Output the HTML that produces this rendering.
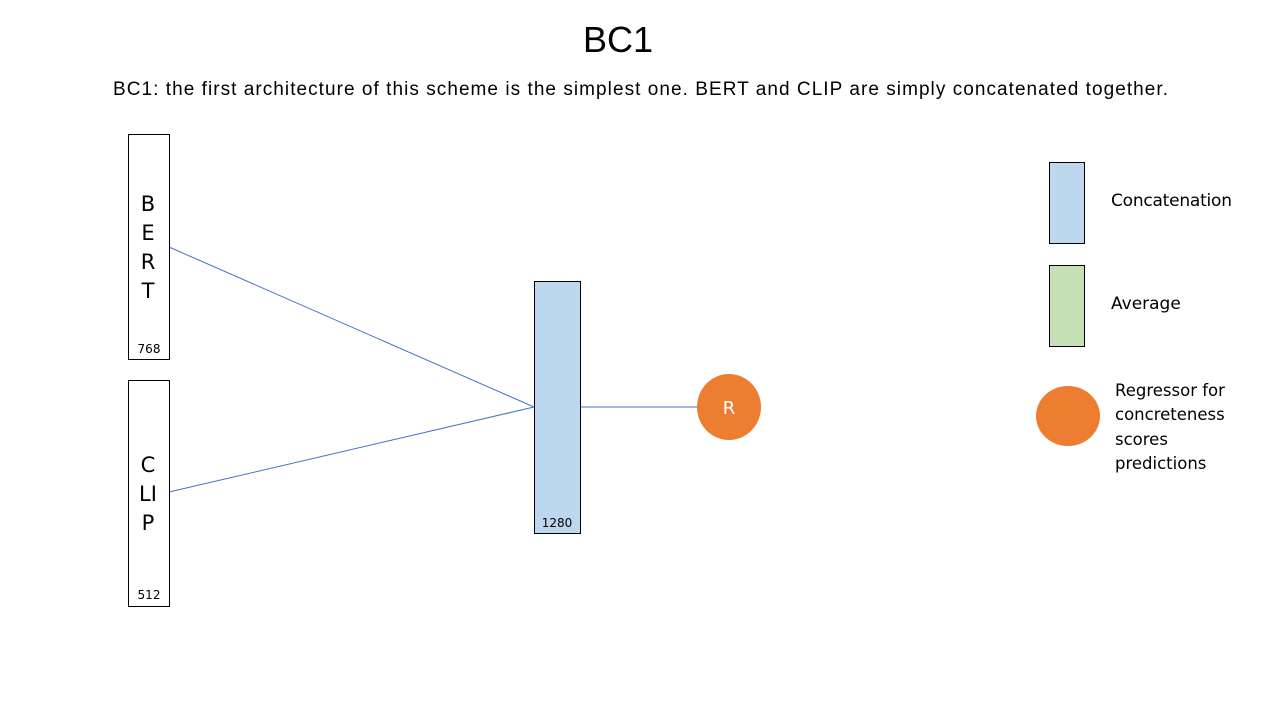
<!DOCTYPE html>
<html><head><meta charset="utf-8"><style>
html,body{margin:0;padding:0;background:#fff;}
svg{display:block;font-family:"Liberation Sans",sans-serif;}
.c{font-family:"DejaVu Sans","Liberation Sans",sans-serif;}
</style></head><body>
<svg width="1280" height="720" viewBox="0 0 1280 720">
<text x="618" y="52" font-size="36" text-anchor="middle">BC1</text>
<text x="113" y="95" font-size="19" textLength="1055" lengthAdjust="spacing">BC1: the first architecture of this scheme is the simplest one. BERT and CLIP are simply concatenated together.</text>

<g>
<line x1="169" y1="247" x2="534" y2="407" stroke="#4472c4" stroke-width="1"/>
<line x1="169" y1="492" x2="534" y2="407" stroke="#4472c4" stroke-width="1"/>
<line x1="580" y1="407" x2="697" y2="407" stroke="#4472c4" stroke-width="1"/>
</g>

<g>
<rect x="128.5" y="134.5" width="41" height="225" fill="#fff" stroke="#000" stroke-width="1"/>
<g class="c" font-size="21" text-anchor="middle">
<text x="148" y="211">B</text><text x="148" y="240">E</text><text x="148" y="269">R</text><text x="148" y="298">T</text>
</g>
<text class="c" x="149" y="353" font-size="12" text-anchor="middle">768</text>
</g>

<g>
<rect x="128.5" y="380.5" width="41" height="226" fill="#fff" stroke="#000" stroke-width="1"/>
<g class="c" font-size="21" text-anchor="middle">
<text x="148" y="472">C</text><text x="148" y="501">LI</text><text x="148" y="530">P</text>
</g>
<text class="c" x="149" y="599" font-size="12" text-anchor="middle">512</text>
</g>

<g>
<rect x="534.5" y="281.5" width="46" height="252" fill="#bdd7ee" stroke="#000" stroke-width="1"/>
<text class="c" x="557" y="527" font-size="12" text-anchor="middle">1280</text>
</g>

<g>
<ellipse cx="729" cy="407" rx="32" ry="33" fill="#ed7d31"/>
<text class="c" x="729" y="414" font-size="18" fill="#fff" text-anchor="middle">R</text>
</g>

<g>
<rect x="1049.5" y="162.5" width="35" height="81" fill="#bdd7ee" stroke="#000"/>
<text class="c" x="1111" y="206" font-size="17" textLength="121">Concatenation</text>
<rect x="1049.5" y="265.5" width="35" height="81" fill="#c5e0b4" stroke="#000"/>
<text class="c" x="1111" y="309" font-size="17">Average</text>
<ellipse cx="1068" cy="416" rx="32" ry="30" fill="#ed7d31"/>
<g class="c" font-size="16.5">
<text x="1115" y="396">Regressor for</text>
<text x="1115" y="420">concreteness</text>
<text x="1115" y="445">scores</text>
<text x="1115" y="469">predictions</text>
</g>
</g>
</svg>
</body></html>
